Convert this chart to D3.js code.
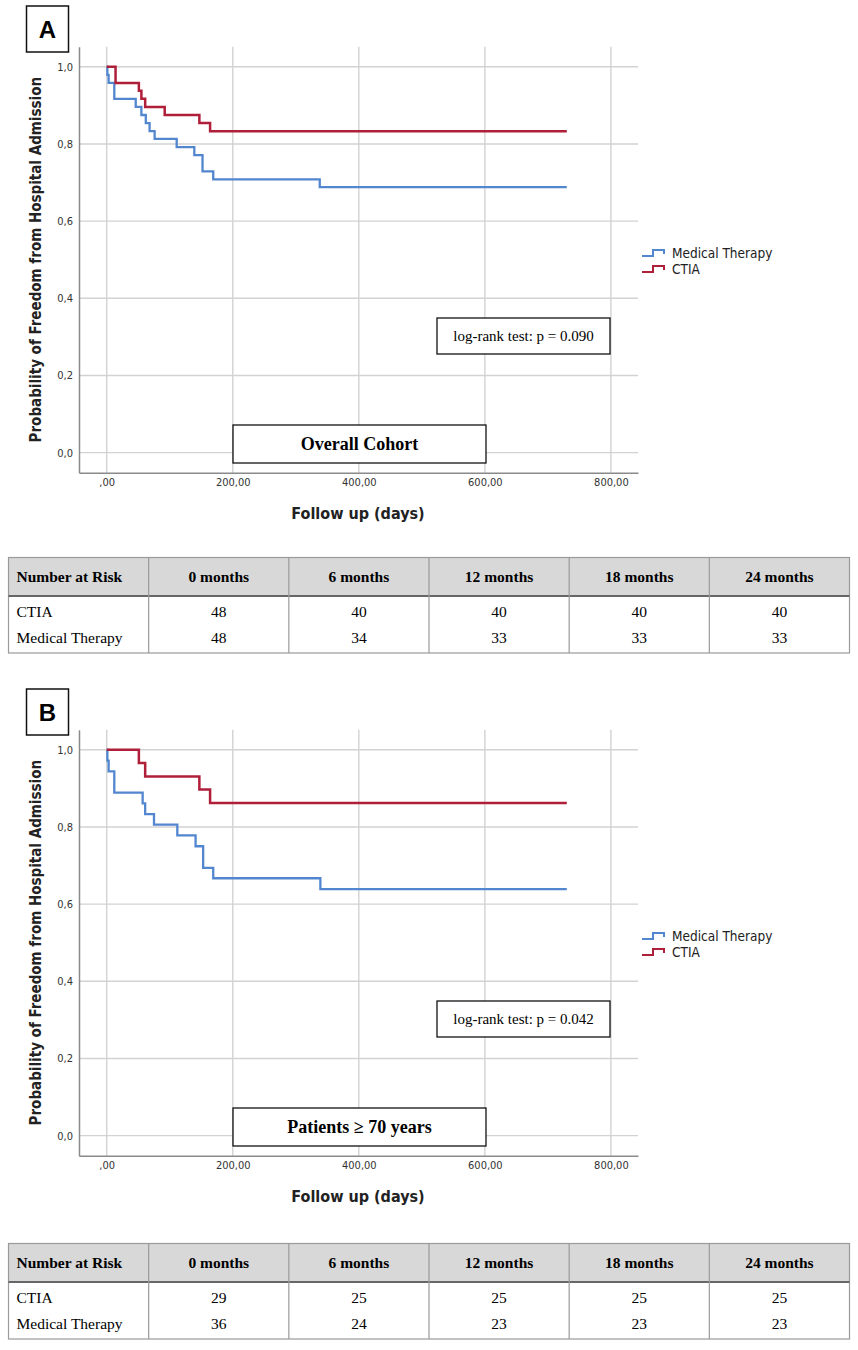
<!DOCTYPE html>
<html>
<head>
<meta charset="utf-8">
<script src="https://cdn.jsdelivr.net/npm/d3@7"></script>
<style>
  body { margin: 0; background: #fff; }
</style>
</head>
<body>
<div id="chart"></div>
<script>
// Kaplan-Meier steps: day of each drop and survival after it
const daysA_medical = [0, 1, 3, 12, 46, 55, 62, 68, 76, 111, 139, 152, 169, 338, 730];
const survA_medical = [1.0, 0.979, 0.958, 0.917, 0.896, 0.875, 0.854, 0.833, 0.813, 0.792, 0.771, 0.729, 0.708, 0.688, 0.688];
const daysA_ctia = [0, 14, 51, 55, 61, 92, 147, 164, 730];
const survA_ctia = [1.0, 0.958, 0.938, 0.917, 0.896, 0.875, 0.854, 0.833, 0.833];

const daysB_medical = [0, 1, 3, 12, 57, 61, 75, 112, 141, 153, 169, 339, 730];
const survB_medical = [1.0, 0.972, 0.944, 0.889, 0.861, 0.833, 0.806, 0.778, 0.750, 0.694, 0.667, 0.639, 0.639];
const daysB_ctia = [0, 51, 61, 147, 164, 730];
const survB_ctia = [1.0, 0.966, 0.931, 0.897, 0.862, 0.862];

const xTicks = [0, 200, 400, 600, 800];
const yTicks = [0, 0.2, 0.4, 0.6, 0.8, 1.0];
const seriesNames = ["Medical Therapy", "CTIA"];

// number at risk tables
const riskHeader = ["Number at Risk", "0 months", "6 months", "12 months", "18 months", "24 months"];
const riskA_ctia = [48, 40, 40, 40, 40];
const riskA_medical = [48, 34, 33, 33, 33];
const riskB_ctia = [29, 25, 25, 25, 25];
const riskB_medical = [36, 24, 23, 23, 23];

const blue = "#5287cf", red = "#b01f3a";
const sansCond = "'Liberation Sans Narrow','DejaVu Sans Condensed','Open Sans',sans-serif";
const serif = "'Liberation Serif','Times New Roman',serif";

const svg = d3.select("#chart")
  .append("svg")
  .attr("width", 858)
  .attr("height", 1350);

svg.append("rect").attr("width", 858).attr("height", 1350).attr("fill", "#fff");

// plot area scales (shared by both panels)
const x = d3.scaleLinear().domain([-44, 843]).range([79, 638]);
const y = d3.scaleLinear().domain([-0.052, 1.052]).range([472.7, 46.7]);

const km = d3.line()
  .curve(d3.curveStepAfter)
  .x(d => x(d[0]))
  .y(d => y(d[1]));

function drawPanel(offset, letter, medical, ctia, pText, cohortText) {
  const g = svg.append("g").attr("transform", `translate(0,${offset})`);

  // letter box
  g.append("rect")
    .attr("x", 26.5).attr("y", 6).attr("width", 42).attr("height", 46)
    .attr("fill", "#fff").attr("stroke", "#111").attr("stroke-width", 1.5);
  g.append("text")
    .attr("x", 47.5).attr("y", 38)
    .attr("text-anchor", "middle")
    .style("font", "bold 24px 'Liberation Sans', Arial, sans-serif")
    .text(letter);

  // grid
  g.append("g").selectAll("line")
    .data(yTicks).join("line")
    .attr("x1", x.range()[0]).attr("x2", x.range()[1])
    .attr("y1", d => y(d)).attr("y2", d => y(d))
    .attr("stroke", "#d2d2d2").attr("stroke-width", 1.4);
  g.append("g").selectAll("line")
    .data(xTicks).join("line")
    .attr("x1", d => x(d)).attr("x2", d => x(d))
    .attr("y1", y.range()[1]).attr("y2", y.range()[0])
    .attr("stroke", "#d2d2d2").attr("stroke-width", 1.4);

  // axes
  const yAxis = g.append("g")
    .attr("transform", `translate(${x.range()[0]},0)`)
    .call(d3.axisLeft(y).tickValues(yTicks)
      .tickFormat(d => d3.format(".1f")(d).replace(".", ","))
      .tickSize(0).tickSizeOuter(0).tickPadding(6));
  const xAxis = g.append("g")
    .attr("transform", `translate(0,${y.range()[0]})`)
    .call(d3.axisBottom(x).tickValues(xTicks)
      .tickFormat(d => d === 0 ? ",00" : d3.format(".2f")(d).replace(".", ","))
      .tickSize(0).tickSizeOuter(0).tickPadding(6));
  [xAxis, yAxis].forEach(a => {
    a.select(".domain").attr("stroke", "#8a8a8a").attr("stroke-width", 1.5);
    a.selectAll("text").attr("fill", "#333").style("font", `11px ${sansCond}`);
  });

  // survival curves
  g.append("path")
    .datum(d3.zip(medical[0], medical[1]))
    .attr("d", km)
    .attr("fill", "none").attr("stroke", blue).attr("stroke-width", 2.3);
  g.append("path")
    .datum(d3.zip(ctia[0], ctia[1]))
    .attr("d", km)
    .attr("fill", "none").attr("stroke", red).attr("stroke-width", 2.5);

  // axis titles
  g.append("text")
    .attr("x", 358).attr("y", 519)
    .attr("text-anchor", "middle")
    .attr("fill", "#222")
    .style("font", `bold 16px ${sansCond}`)
    .text("Follow up (days)");
  g.append("text")
    .attr("transform", `translate(41,${y(0.5)}) rotate(-90)`)
    .attr("text-anchor", "middle")
    .attr("fill", "#222")
    .style("font", `bold 15px ${sansCond}`)
    .text("Probability of Freedom from Hospital Admission");

  // legend
  const leg = g.append("g").attr("transform", "translate(642,249)");
  [blue, red].forEach((c, i) => {
    const yy = i * 16;
    leg.append("path")
      .attr("d", `M0,${yy + 7}H11V${yy + 1}H22V${yy + 5}`)
      .attr("fill", "none").attr("stroke", c).attr("stroke-width", 2);
    leg.append("text")
      .attr("x", 30).attr("y", yy + 9)
      .attr("fill", "#222")
      .style("font", `13.5px ${sansCond}`)
      .text(seriesNames[i]);
  });

  // p-value box
  g.append("rect")
    .attr("x", 437).attr("y", 318).attr("width", 173).attr("height", 36)
    .attr("fill", "#fff").attr("stroke", "#111").attr("stroke-width", 1.3);
  g.append("text")
    .attr("x", 523.5).attr("y", 341)
    .attr("text-anchor", "middle")
    .style("font", `15px ${serif}`)
    .text(pText);

  // cohort box
  g.append("rect")
    .attr("x", 233).attr("y", 425).attr("width", 253).attr("height", 38)
    .attr("fill", "#fff").attr("stroke", "#111").attr("stroke-width", 1.3);
  g.append("text")
    .attr("x", 359.5).attr("y", 450)
    .attr("text-anchor", "middle")
    .style("font", `bold 18px ${serif}`)
    .text(cohortText);
}

function drawTable(top, ctiaRow, medRow) {
  const g = svg.append("g").attr("transform", `translate(0,${top})`);
  const cols = d3.scaleBand().domain(d3.range(6)).range([8.5, 849.5]);
  const headH = 38.5, bodyH = 57;

  g.append("rect")
    .attr("x", 8.5).attr("y", 0).attr("width", 841).attr("height", headH)
    .attr("fill", "#d8d8d8");
  g.append("rect")
    .attr("x", 8.5).attr("y", 0).attr("width", 841).attr("height", headH + bodyH)
    .attr("fill", "none").attr("stroke", "#9a9a9a").attr("stroke-width", 1.2);
  g.append("line")
    .attr("x1", 8.5).attr("x2", 849.5).attr("y1", headH).attr("y2", headH)
    .attr("stroke", "#666").attr("stroke-width", 2);
  g.selectAll(".col").data(d3.range(1, 6)).join("line")
    .attr("x1", d => cols(d)).attr("x2", d => cols(d))
    .attr("y1", 0).attr("y2", headH + bodyH)
    .attr("stroke", "#9a9a9a").attr("stroke-width", 1.2);

  g.selectAll(".hd").data(riskHeader).join("text")
    .attr("x", (d, i) => i === 0 ? 16.5 : cols(i) + cols.bandwidth() / 2)
    .attr("y", 24)
    .attr("text-anchor", (d, i) => i === 0 ? "start" : "middle")
    .style("font", `bold 15.5px ${serif}`)
    .text(d => d);

  [["CTIA", ctiaRow, 59], ["Medical Therapy", medRow, 85]].forEach(([name, vals, yy]) => {
    g.append("text")
      .attr("x", 16.5).attr("y", yy)
      .style("font", `15.5px ${serif}`)
      .text(name);
    g.selectAll(null).data(vals).join("text")
      .attr("x", (d, i) => cols(i + 1) + cols.bandwidth() / 2)
      .attr("y", yy)
      .attr("text-anchor", "middle")
      .style("font", `15.5px ${serif}`)
      .text(d => d);
  });
}

drawPanel(0, "A", [daysA_medical, survA_medical], [daysA_ctia, survA_ctia],
  "log-rank test: p = 0.090", "Overall Cohort");
drawTable(557.5, riskA_ctia, riskA_medical);

drawPanel(683, "B", [daysB_medical, survB_medical], [daysB_ctia, survB_ctia],
  "log-rank test: p = 0.042", "Patients \u2265 70 years");
drawTable(1243.5, riskB_ctia, riskB_medical);
</script>
</body>
</html>
